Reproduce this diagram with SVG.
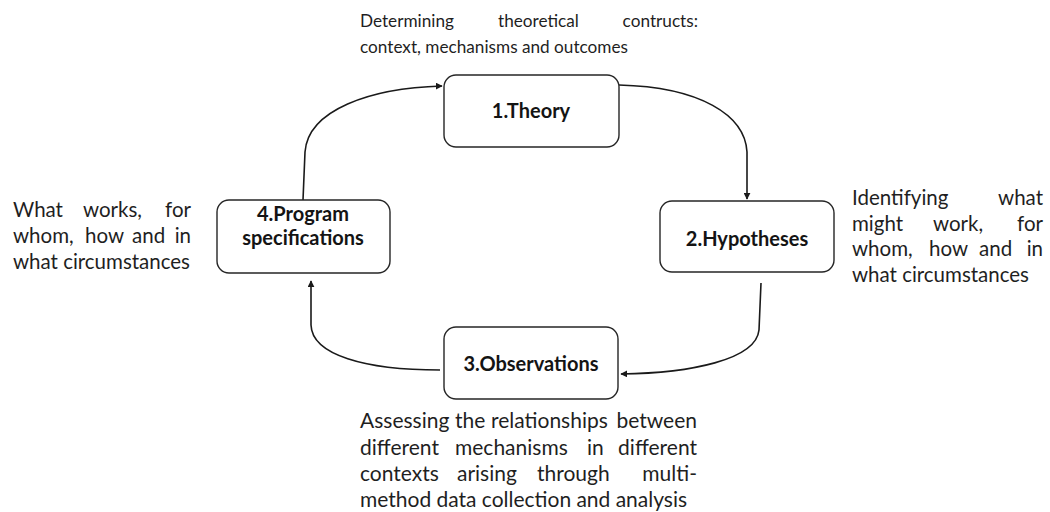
<svg xmlns="http://www.w3.org/2000/svg" width="1050" height="512" viewBox="0 0 1050 512">
  <style>
    .box { fill: #ffffff; stroke: #262626; stroke-width: 1.4; }
    .label { font-family: Lato, "Liberation Sans", sans-serif; font-weight: bold; font-size: 20px; fill: #141414; text-anchor: middle; }
    .note { font-family: Lato, "Liberation Sans", sans-serif; fill: #1f1f1f; }
    .top { font-size: 17.2px; }
    .side { font-size: 20.5px; }
    .bottom { font-size: 21px; }
    .link { fill: none; stroke: #1a1a1a; stroke-width: 1.6; marker-end: url(#arrow); }
  </style>
  <defs>
    <marker id="arrow" viewBox="0 0 10 10" refX="9" refY="5" markerWidth="7" markerHeight="7" markerUnits="userSpaceOnUse" orient="auto">
      <path d="M0,0 L10,5 L0,10 z" fill="#1a1a1a"/>
    </marker>
  </defs>

  <!-- cycle connectors -->
  <g id="connectors">
    <path class="link" d="M303,200 L305,152 C308,110 370,88 442,86"/>
    <path class="link" d="M619,85 C700,87 745,115 747,152 L747,199"/>
    <path class="link" d="M761,283 L759,330 C756,360 690,373 621,374"/>
    <path class="link" d="M440,370 C365,370 312,355 311,325 L311,281"/>
  </g>

  <g id="node-theory">
    <rect class="box" x="444" y="75" width="175" height="72" rx="12"/>
    <text class="label" x="531" y="118">1.Theory</text>
  </g>
  <g id="node-hypotheses">
    <rect class="box" x="660" y="201" width="174" height="71" rx="12"/>
    <text class="label" x="747" y="246">2.Hypotheses</text>
  </g>
  <g id="node-observations">
    <rect class="box" x="444" y="327" width="174" height="72" rx="12"/>
    <text class="label" x="531" y="371">3.Observations</text>
  </g>
  <g id="node-program">
    <rect class="box" x="217" y="200" width="173" height="73" rx="12"/>
    <text class="label" x="303" y="221">4.Program</text>
    <text class="label" x="303" y="245">specifications</text>
  </g>

  <!-- annotations, justified by placing each word -->
  <g id="note-theory" class="note top">
    <text y="27"><tspan x="360">Determining</tspan><tspan x="498">theoretical</tspan><tspan x="698" text-anchor="end">contructs:</tspan></text>
    <text x="360" y="53" textLength="268" lengthAdjust="spacing">context, mechanisms and outcomes</text>
  </g>
  <g id="note-hypotheses" class="note side">
    <text y="205"><tspan x="852">Identifying</tspan><tspan x="1043" text-anchor="end">what</tspan></text>
    <text y="231"><tspan x="852">might</tspan><tspan x="933">work,</tspan><tspan x="1043" text-anchor="end">for</tspan></text>
    <text y="256"><tspan x="852">whom,</tspan><tspan x="929">how</tspan><tspan x="979">and</tspan><tspan x="1043" text-anchor="end">in</tspan></text>
    <text x="852" y="282" textLength="177" lengthAdjust="spacing">what circumstances</text>
  </g>
  <g id="note-observations" class="note bottom">
    <text y="428"><tspan x="360">Assessing</tspan><tspan x="455">the</tspan><tspan x="491">relationships</tspan><tspan x="697" text-anchor="end">between</tspan></text>
    <text y="455"><tspan x="360">different</tspan><tspan x="455">mechanisms</tspan><tspan x="587">in</tspan><tspan x="697" text-anchor="end">different</tspan></text>
    <text y="481"><tspan x="360">contexts</tspan><tspan x="457">arising</tspan><tspan x="537">through</tspan><tspan x="697" text-anchor="end">multi-</tspan></text>
    <text x="360" y="507" textLength="327" lengthAdjust="spacing">method data collection and analysis</text>
  </g>
  <g id="note-program" class="note side">
    <text y="217"><tspan x="13">What</tspan><tspan x="83">works,</tspan><tspan x="191" text-anchor="end">for</tspan></text>
    <text y="243"><tspan x="13">whom,</tspan><tspan x="85">how</tspan><tspan x="132">and</tspan><tspan x="191" text-anchor="end">in</tspan></text>
    <text x="13" y="269" textLength="177" lengthAdjust="spacing">what circumstances</text>
  </g>
</svg>
